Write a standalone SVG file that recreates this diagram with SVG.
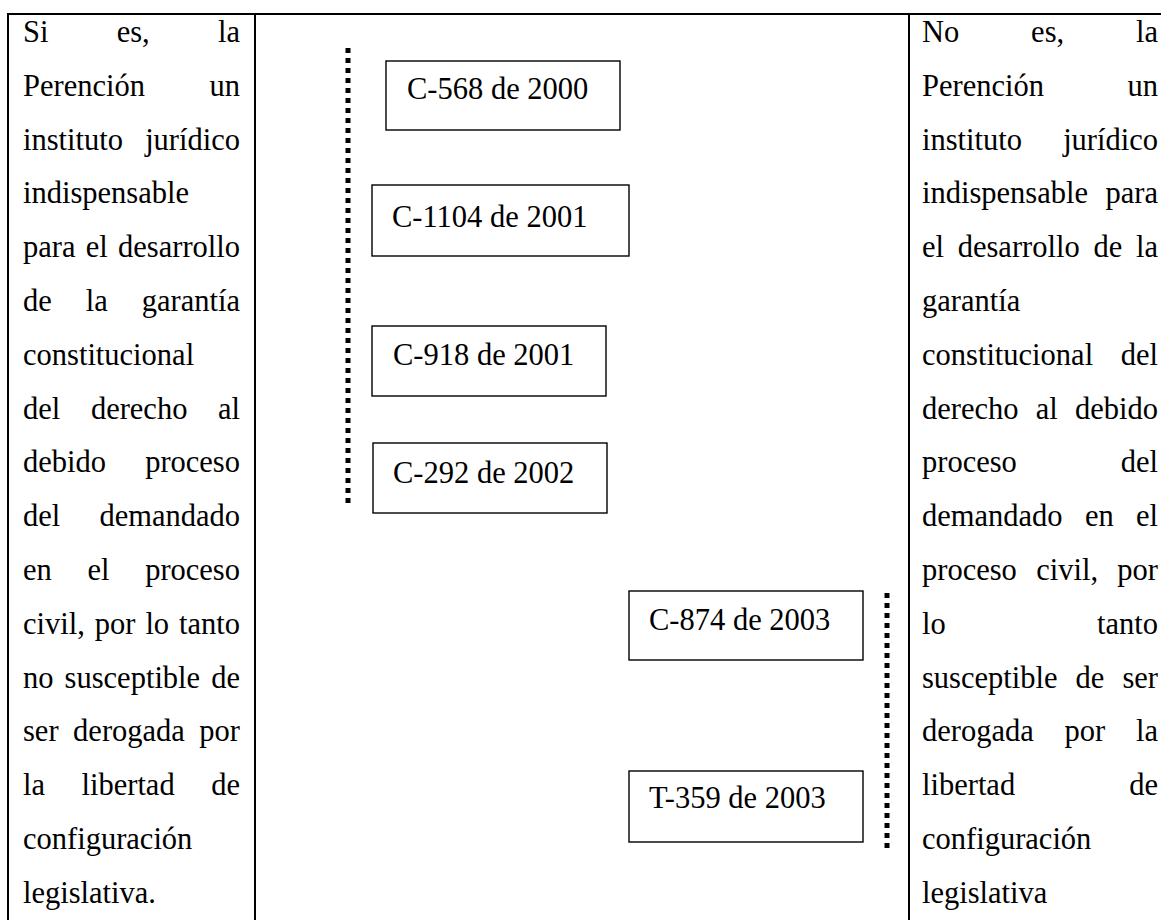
<svg xmlns="http://www.w3.org/2000/svg" width="1161" height="920" viewBox="0 0 1161 920">
<style>
.t{font-family:"Liberation Serif","Times New Roman",serif;font-size:30.5px;fill:#000}
.e{text-anchor:end}
.grid{stroke:#000;stroke-width:2;fill:none}
.box{fill:#fff;stroke:#000;stroke-width:1.4}
.dot{stroke:#000;stroke-width:5;stroke-dasharray:5 5;fill:none}
</style>
<rect width="1161" height="920" fill="#fff"/>
<g id="table" class="grid">
<line x1="7" y1="14" x2="1161" y2="14"/>
<line x1="8" y1="13" x2="8" y2="920"/>
<line x1="255" y1="13" x2="255" y2="920"/>
<line x1="909" y1="13" x2="909" y2="920"/>
</g>
<g id="left-text" class="t">
<text x="23" y="42">Si</text><text x="116.7" y="42">es,</text><text x="240" y="42" class="e">la</text>
<text x="23" y="95.8">Perención</text><text x="240" y="95.8" class="e">un</text>
<text x="23" y="149.6">instituto</text><text x="240" y="149.6" class="e">jurídico</text>
<text x="23" y="203.4">indispensable</text>
<text x="23" y="257.2">para</text><text x="85.7" y="257.2">el</text><text x="240" y="257.2" class="e">desarrollo</text>
<text x="23" y="311">de</text><text x="85.8" y="311">la</text><text x="240" y="311" class="e">garantía</text>
<text x="23" y="364.8">constitucional</text>
<text x="23" y="418.6">del</text><text x="90.9" y="418.6">derecho</text><text x="240" y="418.6" class="e">al</text>
<text x="23" y="472.4">debido</text><text x="240" y="472.4" class="e">proceso</text>
<text x="23" y="526.2">del</text><text x="240" y="526.2" class="e">demandado</text>
<text x="23" y="580">en</text><text x="87.5" y="580">el</text><text x="240" y="580" class="e">proceso</text>
<text x="23" y="633.8">civil,</text><text x="94.8" y="633.8">por</text><text x="145.4" y="633.8">lo</text><text x="240" y="633.8" class="e">tanto</text>
<text x="23" y="687.6">no</text><text x="64.6" y="687.6">susceptible</text><text x="240" y="687.6" class="e">de</text>
<text x="23" y="741.4">ser</text><text x="73.1" y="741.4">derogada</text><text x="240" y="741.4" class="e">por</text>
<text x="23" y="795.2">la</text><text x="81.5" y="795.2">libertad</text><text x="240" y="795.2" class="e">de</text>
<text x="23" y="849">configuración</text>
<text x="23" y="902.8">legislativa.</text>
</g>
<g id="right-text" class="t">
<text x="922" y="42">No</text><text x="1031.1" y="42">es,</text><text x="1158" y="42" class="e">la</text>
<text x="922" y="95.8">Perención</text><text x="1158" y="95.8" class="e">un</text>
<text x="922" y="149.6">instituto</text><text x="1158" y="149.6" class="e">jurídico</text>
<text x="922" y="203.4">indispensable</text><text x="1158" y="203.4" class="e">para</text>
<text x="922" y="257.2">el</text><text x="957.7" y="257.2">desarrollo</text><text x="1093.4" y="257.2">de</text><text x="1158" y="257.2" class="e">la</text>
<text x="922" y="311">garantía</text>
<text x="922" y="364.8">constitucional</text><text x="1158" y="364.8" class="e">del</text>
<text x="922" y="418.6">derecho</text><text x="1035.7" y="418.6">al</text><text x="1158" y="418.6" class="e">debido</text>
<text x="922" y="472.4">proceso</text><text x="1158" y="472.4" class="e">del</text>
<text x="922" y="526.2">demandado</text><text x="1084.9" y="526.2">en</text><text x="1158" y="526.2" class="e">el</text>
<text x="922" y="580">proceso</text><text x="1036.2" y="580">civil,</text><text x="1158" y="580" class="e">por</text>
<text x="922" y="633.8">lo</text><text x="1158" y="633.8" class="e">tanto</text>
<text x="922" y="687.6">susceptible</text><text x="1075.6" y="687.6">de</text><text x="1158" y="687.6" class="e">ser</text>
<text x="922" y="741.4">derogada</text><text x="1064.5" y="741.4">por</text><text x="1158" y="741.4" class="e">la</text>
<text x="922" y="795.2">libertad</text><text x="1158" y="795.2" class="e">de</text>
<text x="922" y="849">configuración</text>
<text x="922" y="902.8">legislativa</text>
</g>
<g id="connectors">
<line class="dot" x1="348" y1="48" x2="348" y2="505"/>
<line class="dot" x1="887" y1="593" x2="887" y2="848"/>
</g>
<g id="n-c568"><rect class="box" x="386" y="61" width="234" height="69"/><text class="t" x="407" y="99">C-568 de 2000</text></g>
<g id="n-c1104"><rect class="box" x="372" y="185" width="257" height="71"/><text class="t" x="392" y="227">C-1104 de 2001</text></g>
<g id="n-c918"><rect class="box" x="372" y="326" width="234" height="70"/><text class="t" x="393" y="365">C-918 de 2001</text></g>
<g id="n-c292"><rect class="box" x="373" y="443" width="234" height="70"/><text class="t" x="393" y="483">C-292 de 2002</text></g>
<g id="n-c874"><rect class="box" x="629" y="591" width="234" height="69"/><text class="t" x="649" y="630">C-874 de 2003</text></g>
<g id="n-t359"><rect class="box" x="629" y="771" width="234" height="71"/><text class="t" x="649" y="808">T-359 de 2003</text></g>
</svg>
